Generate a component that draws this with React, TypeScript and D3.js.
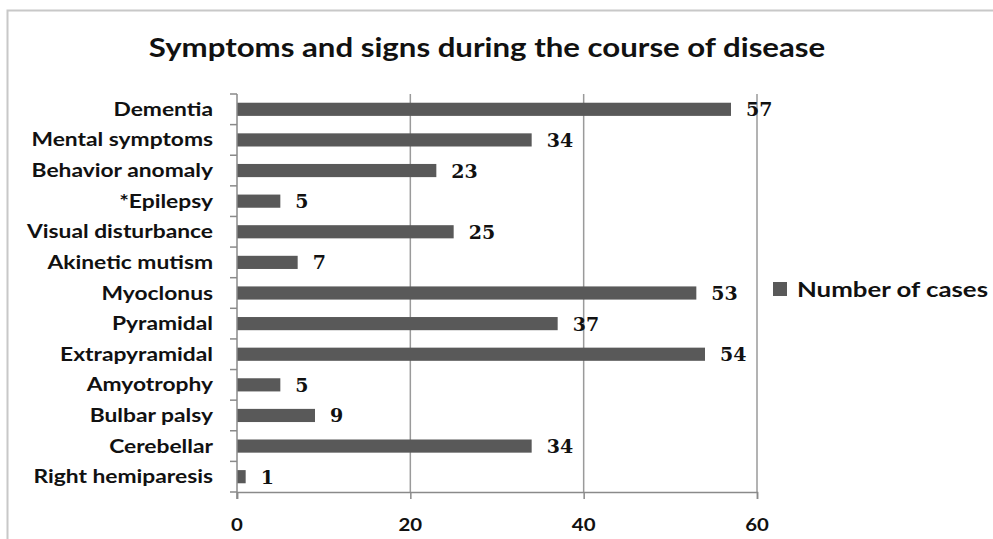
import { useRef, useEffect } from "react";
import * as d3 from "d3";

const categories = [
  "Dementia",
  "Mental symptoms",
  "Behavior anomaly",
  "*Epilepsy",
  "Visual disturbance",
  "Akinetic mutism",
  "Myoclonus",
  "Pyramidal",
  "Extrapyramidal",
  "Amyotrophy",
  "Bulbar palsy",
  "Cerebellar",
  "Right hemiparesis",
];
const cases = [57, 34, 23, 5, 25, 7, 53, 37, 54, 5, 9, 34, 1];
const xTicks = [0, 20, 40, 60];
const seriesName = "Number of cases";
const title = "Symptoms and signs during the course of disease";

function App() {
  const ref = useRef<SVGSVGElement>(null);

  useEffect(() => {
    const svg = d3.select(ref.current);
    svg.selectAll("*").remove();

    const width = 993;
    const height = 539;
    const plot = { left: 237, right: 757, top: 94, bottom: 492 };
    const sans = "Lato, 'Open Sans', sans-serif";
    const serif = "'DejaVu Serif', 'Liberation Serif', serif";
    const stretch = 1.2; // the source picture is stretched sideways
    const axisColor = "#8a8a8a";

    svg.append("rect").attr("width", width).attr("height", height).attr("fill", "#fff");
    // frame (only top and left edges are visible in the crop)
    svg.append("rect")
      .attr("x", 7.5).attr("y", 10.5)
      .attr("width", width + 20).attr("height", height + 20)
      .attr("fill", "none").attr("stroke", "#c8c8c8").attr("stroke-width", 2);

    svg.append("text")
      .attr("transform", `translate(487,57) scale(${stretch},1)`)
      .attr("text-anchor", "middle")
      .style("font-family", sans).style("font-weight", "bold").style("font-size", "26px")
      .attr("fill", "#111")
      .text(title);

    const x = d3.scaleLinear().domain([0, 60]).range([plot.left, plot.right]);
    const y = d3.scaleBand().domain(categories).range([plot.top, plot.bottom]).padding(0);
    const barH = y.step() * 0.43;

    // gridlines
    svg.append("g").selectAll("line")
      .data(xTicks.filter(t => t > 0))
      .enter().append("line")
      .attr("x1", d => x(d)).attr("x2", d => x(d))
      .attr("y1", plot.top).attr("y2", plot.bottom)
      .attr("stroke", "#9a9a9a").attr("stroke-width", 1.5);

    // bars
    svg.append("g").selectAll("rect")
      .data(categories)
      .enter().append("rect")
      .attr("x", x(0))
      .attr("y", d => (y(d) as number) + (y.bandwidth() - barH) / 2)
      .attr("width", (d, i) => x(cases[i]) - x(0))
      .attr("height", barH)
      .attr("fill", "#595959");

    // value labels
    svg.append("g").selectAll("text")
      .data(categories)
      .enter().append("text")
      .attr("x", (d, i) => x(cases[i]) + 15)
      .attr("y", d => (y(d) as number) + y.bandwidth() / 2 + 7)
      .style("font-family", serif).style("font-weight", "bold").style("font-size", "19px")
      .attr("fill", "#111")
      .text((d, i) => cases[i]);

    // y axis line + separators
    const yAxis = svg.append("g").attr("transform", `translate(${plot.left},0)`);
    yAxis.append("line")
      .attr("x1", 0).attr("x2", 0).attr("y1", plot.top).attr("y2", plot.bottom + 7)
      .attr("stroke", axisColor).attr("stroke-width", 1.5);
    yAxis.selectAll(".sep")
      .data(d3.range(categories.length + 1))
      .enter().append("line")
      .attr("class", "sep")
      .attr("x1", -7).attr("x2", 0)
      .attr("y1", i => plot.top + i * y.step()).attr("y2", i => plot.top + i * y.step())
      .attr("stroke", axisColor).attr("stroke-width", 1.5);

    // category labels
    svg.append("g").selectAll("text")
      .data(categories)
      .enter().append("text")
      .attr("transform", d => `translate(213,${(y(d) as number) + y.bandwidth() / 2 + 6.5}) scale(${stretch},1)`)
      .attr("text-anchor", "end")
      .style("font-family", sans).style("font-weight", "bold").style("font-size", "19px")
      .attr("fill", "#111")
      .text(d => d);

    // x axis
    const xAxis = svg.append("g")
      .attr("transform", `translate(0,${plot.bottom})`)
      .call(d3.axisBottom(x).tickValues(xTicks).tickSize(7).tickFormat(() => ""));
    xAxis.select(".domain").attr("stroke", axisColor).attr("stroke-width", 1.5);
    xAxis.selectAll("line").attr("stroke", axisColor).attr("stroke-width", 1.5);
    svg.append("g").selectAll("text")
      .data(xTicks)
      .enter().append("text")
      .attr("transform", d => `translate(${x(d)},${plot.bottom + 39}) scale(${stretch},1)`)
      .attr("text-anchor", "middle")
      .style("font-family", sans).style("font-weight", "bold").style("font-size", "17px")
      .attr("fill", "#111")
      .text(d => d);

    // legend
    const legend = svg.append("g").attr("transform", "translate(773,282)");
    legend.append("rect").attr("width", 14).attr("height", 14).attr("fill", "#595959");
    legend.append("text")
      .attr("transform", `translate(24,14.5) scale(${stretch},1)`)
      .style("font-family", sans).style("font-weight", "bold").style("font-size", "21.5px")
      .attr("fill", "#111")
      .text(seriesName);
  }, []);

  return (
    <svg
      ref={ref}
      width="993"
      height="539"
      style={{ position: "absolute", left: 0, top: 0, display: "block" }}
    />
  );
}

export default App;
